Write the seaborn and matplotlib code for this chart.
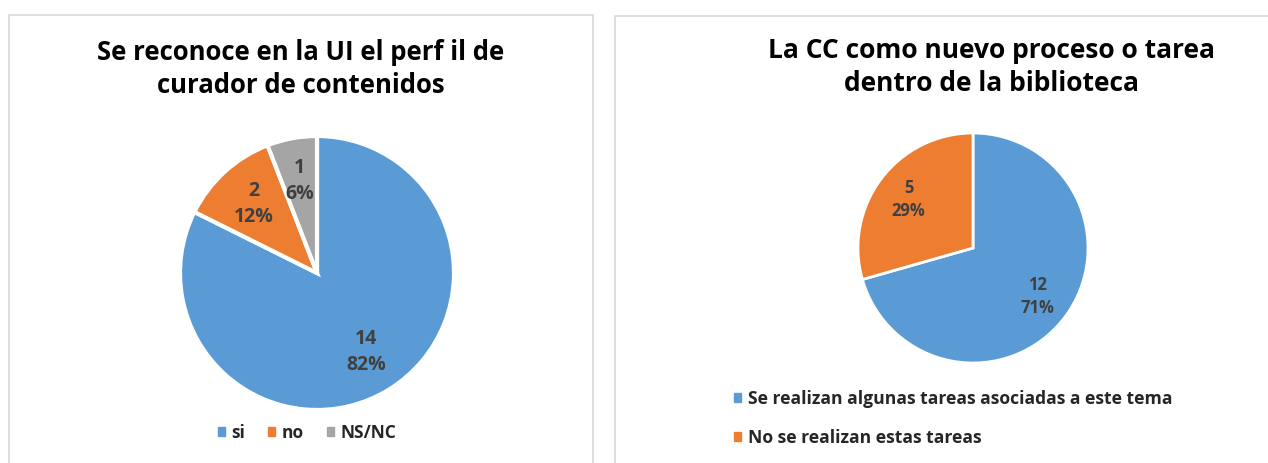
import matplotlib
matplotlib.use("Agg")
import matplotlib.pyplot as plt
import seaborn as sns
from matplotlib.patches import Rectangle, Patch

# datos
left_title = "Se reconoce en la UI el perf il de\ncurador de contenidos"
left_labels = ["si", "no", "NS/NC"]
left_values = [14, 2, 1]

right_title = "La CC como nuevo proceso o tarea\ndentro de la biblioteca"
right_labels = ["Se realizan algunas tareas asociadas a este tema", "No se realizan estas tareas"]
right_values = [12, 5]

colors = ["#5B9BD5", "#ED7D31", "#A5A5A5"]
txt_color = "#404040"

sns.set_theme(style="white")
plt.rcParams["font.family"] = ["Open Sans", "DejaVu Sans"]

W, H = 1268, 463
fig = plt.figure(figsize=(W / 100, H / 100), dpi=100)

# marcos de cada grafico
for x0, x1, y0 in [(9, 593, 15), (615, 1275, 16)]:
    fig.patches.append(Rectangle((x0 / W, -0.01), (x1 - x0) / W, 1 - y0 / H + 0.01,
                                 transform=fig.transFigure, fill=False,
                                 edgecolor="#D9D9D9", linewidth=1.2))


def make_label(vals):
    total = sum(vals)
    def f(p):
        n = int(round(p * total / 100))
        return f"{n}\n{p:.0f}%"
    return f


def draw_pie(rect, vals, cols, pctdist, fsize, lw):
    ax = fig.add_axes(rect)
    wedges, _, autotexts = ax.pie(vals, colors=cols, startangle=90, counterclock=False,
                                  autopct=make_label(vals), pctdistance=pctdist,
                                  wedgeprops=dict(edgecolor="white", linewidth=lw))
    for t in autotexts:
        t.set_color(txt_color)
        t.set_fontweight("bold")
        t.set_fontsize(fsize)
        t.set_linespacing(1.4)
    ax.set_xlim(-1, 1)
    ax.set_ylim(-1, 1)
    ax.set_aspect("equal")
    ax.axis("off")
    return ax, wedges


# grafico izquierdo
cx, cy, r = 317, 273, 137
ax1, w1 = draw_pie([(cx - r) / W, (H - cy - r) / H, 2 * r / W, 2 * r / H],
                   left_values, colors, 0.68, 14, 3)
fig.text(301 / W, 1 - 69 / H, left_title, ha="center", va="center",
         fontsize=18.5, fontweight="bold", color="black", linespacing=1.3)
fig.legend([Patch(color=c) for c in colors], left_labels, loc="center",
           bbox_to_anchor=(307 / W, 1 - 433 / H), ncol=3, frameon=False,
           handlelength=0.4, handleheight=0.4, handletextpad=0.4, columnspacing=1.3,
           prop=dict(size=12.5, weight="bold"))

# grafico derecho
cx, cy, r = 973, 248, 115
ax2, w2 = draw_pie([(cx - r) / W, (H - cy - r) / H, 2 * r / W, 2 * r / H],
                   right_values, colors[:2], 0.7, 12, 2)
fig.text(991 / W, 1 - 67 / H, right_title, ha="center", va="center",
         fontsize=19, fontweight="bold", color="black", linespacing=1.3)
fig.legend([Patch(color=c) for c in colors[:2]], right_labels, loc="upper left",
           bbox_to_anchor=(718 / W, 1 - 374 / H), ncol=1, frameon=False,
           handlelength=0.4, handleheight=0.4, handletextpad=0.4, labelspacing=1.2,
           prop=dict(size=12.6, weight="bold"))

fig.savefig("out.png", dpi=100)
